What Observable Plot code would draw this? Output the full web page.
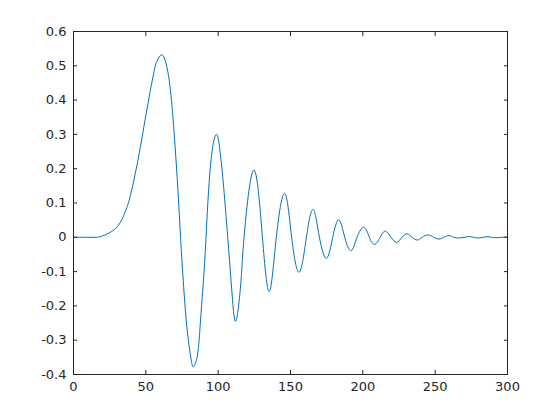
<!DOCTYPE html>
<html>
<head>
<meta charset="utf-8">
<script src="https://cdn.jsdelivr.net/npm/d3@7"></script>
<script src="https://cdn.jsdelivr.net/npm/@observablehq/plot@0.6"></script>
<style>
  html, body { margin: 0; padding: 0; background: #fff; }
  #chart svg { display: block; }
</style>
</head>
<body>
<div id="chart"></div>
<script>
// Sample positions along the time axis
const xs = [0, 10, 16, 20, 24, 28, 32.3, 36.9, 40.4, 45.0, 50.0, 55.4, 57.7, 60.7, 63.4, 65.7, 67.4,
  69.2, 72.0, 74.0, 76.1, 78.5, 81.4, 83.0, 84.9, 86.5, 88.1, 89.9, 91.6, 94.6, 98.7,
  101.5, 103.8, 106.6, 109.6, 112.4, 115.8, 117.9, 124.5,
  130.6, 135.4, 140.2, 146.0, 150.8, 156.0, 161.0, 165.6, 170, 174.9,
  179.2, 183.4, 187.5, 191.9, 196, 200.7, 204.5, 208.1, 212, 215.5, 219.5, 223.4, 227, 230.7, 234, 237.6, 241,
  245, 249, 252.6, 256, 259.5, 263, 266.4, 270, 273.3, 276.5, 279.5, 283, 286.5, 289, 292, 296, 300];
// Signal values at those positions
const ys = [0, 0, 0, 0.004, 0.011, 0.022, 0.043, 0.087, 0.141, 0.235, 0.355, 0.478, 0.513, 0.532, 0.515, 0.471, 0.413,
  0.325, 0.151, 0, -0.141, -0.267, -0.359, -0.377, -0.359, -0.316, -0.225, -0.121, 0, 0.205, 0.300,
  0.243, 0.146, 0, -0.165, -0.243, -0.126, 0, 0.196,
  0, -0.158, 0, 0.128, 0, -0.102, 0, 0.081, 0, -0.061,
  0, 0.051, 0, -0.039, 0, 0.029, 0, -0.021, 0, 0.018, 0, -0.015, 0, 0.010, 0, -0.008, 0,
  0.007, 0, -0.005, 0, 0.005, 0, -0.002, 0, 0.002, 0, -0.002, 0, 0.002, 0, -0.001, 0, 0.0005];

const xTicks = [0, 50, 100, 150, 200, 250, 300];
const xTickLabels = ["0", "50", "100", "150", "200", "250", "300"];
const yTicks = [-0.4, -0.3, -0.2, -0.1, 0, 0.1, 0.2, 0.3, 0.4, 0.5, 0.6];
const yTickLabels = ["-0.4", "-0.3", "-0.2", "-0.1", "0", "0.1", "0.2", "0.3", "0.4", "0.5", "0.6"];

const data = xs.map((x, i) => ({x, y: ys[i]}));
const axisColor = "#262626";

const chart = Plot.plot({
  width: 560,
  height: 420,
  marginLeft: 73,
  marginRight: 53,
  marginTop: 31,
  marginBottom: 46,
  style: {fontFamily: "DejaVu Sans", fontSize: "13px", color: axisColor, background: "#fff"},
  x: {domain: [0, 300]},
  y: {domain: [-0.4, 0.6]},
  marks: [
    Plot.line(data, {x: "x", y: "y", stroke: "#0072BD", strokeWidth: 1, curve: "natural"}),
    Plot.frame({stroke: axisColor}),
    // inward ticks on all four sides
    Plot.axisX({anchor: "bottom", ticks: xTicks, tickSize: -4, fill: "none", label: null, stroke: axisColor}),
    Plot.axisX({anchor: "top", ticks: xTicks, tickSize: -4, fill: "none", label: null, stroke: axisColor}),
    Plot.axisY({anchor: "left", ticks: yTicks, tickSize: -4, fill: "none", label: null, stroke: axisColor}),
    Plot.axisY({anchor: "right", ticks: yTicks, tickSize: -4, fill: "none", label: null, stroke: axisColor}),
    // tick labels
    Plot.axisX({anchor: "bottom", ticks: xTicks, tickSize: 0, tickPadding: 7, label: null, fill: axisColor,
      tickFormat: d => xTickLabels[xTicks.indexOf(d)]}),
    Plot.axisY({anchor: "left", ticks: yTicks, tickSize: 0, tickPadding: 7, label: null, fill: axisColor,
      tickFormat: d => yTickLabels[yTicks.indexOf(d)]})
  ]
});
document.getElementById("chart").append(chart);
</script>
</body>
</html>
